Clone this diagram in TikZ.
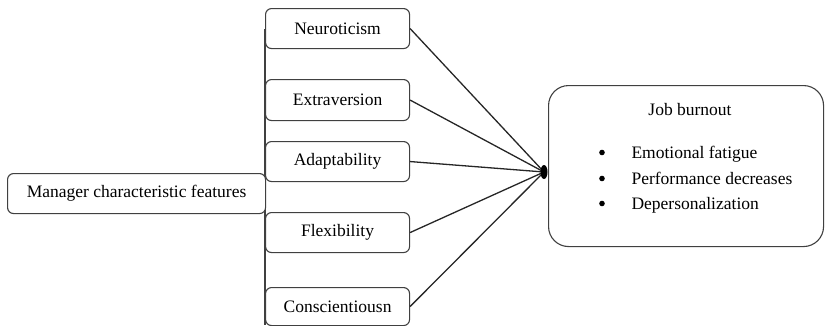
\documentclass[tikz,border=0pt]{standalone}
\usepackage{fontspec}
\setmainfont{Liberation Serif}
\begin{document}
\begin{tikzpicture}[x=1pt,y=-1pt,
  txt/.style={font=\fontsize{17.5}{20}\selectfont},
  box/.style={draw=black!75,line width=1.1pt,rounded corners=6pt,fill=white,inner sep=0pt,txt},
  conn/.style={draw=black!85,line width=1.3pt}]
\useasboundingbox (0,0) rectangle (825,325);
% trait boxes (left edge at x=265)
\node[box,minimum width=144pt,minimum height=40pt,anchor=north west] (neu) at (265,8) {Neuroticism};
\node[box,minimum width=144pt,minimum height=41pt,anchor=north west] (ext) at (265,79) {Extraversion};
\node[box,minimum width=144pt,minimum height=40pt,anchor=north west] (ada) at (265,141) {Adaptability};
\node[box,minimum width=144pt,minimum height=40pt,anchor=north west] (fle) at (265,212) {Flexibility};
\node[box,minimum width=144pt,minimum height=38pt,anchor=north west] (con) at (265,287) {Conscientiousn};
% vertical bracket line
\coordinate (vbot) at (265,325);
\draw[conn,draw=black!75,line width=1.1pt] (neu.west) -- (vbot);
% manager box
\node[box,minimum width=258pt,minimum height=40pt,anchor=north west] (man) at (7,173) {Manager characteristic features};
% convergence point
\coordinate (hub) at (544,172);
\foreach \n in {neu,ext,ada,fle,con}{\draw[conn] (\n.east) -- (hub);}
\fill[black] (hub) ellipse [x radius=3.5pt,y radius=7pt];
% job burnout box
\node[box,rounded corners=20pt,minimum width=275pt,minimum height=161pt,anchor=north west] (job) at (548,85) {};
\node[txt] (jt) at (690,110) {Job burnout};
\node[txt,anchor=base west] (b1) at (628,158) {Emotional fatigue};
\node[txt,anchor=base west] (b2) at (628,184) {Performance decreases};
\node[txt,anchor=base west] (b3) at (628,209) {Depersonalization};
\foreach \b in {b1,b2,b3}{\fill[black] ([yshift=5.5pt]602,0 |- \b.base) circle (2.8pt);}
\end{tikzpicture}
\end{document}
